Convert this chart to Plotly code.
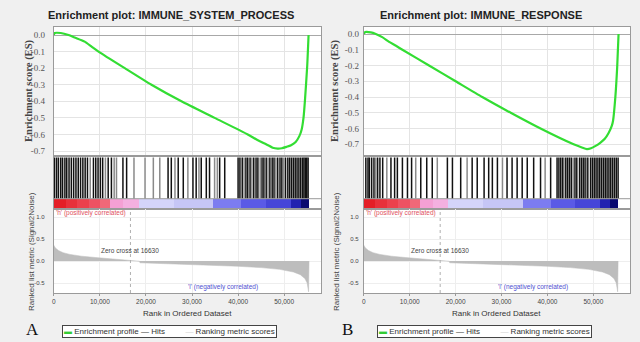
import plotly.graph_objects as go

W, H = 640, 342
def fx(px): return px / W
def fy(px): return 1 - px / H

# ---------------- data ----------------
title_a = "Enrichment plot: IMMUNE_SYSTEM_PROCESS"
title_b = "Enrichment plot: IMMUNE_RESPONSE"

es_rank_a = [0, 200, 1500, 3200, 4500, 6700, 8200, 9700, 15400, 21200, 27700, 34900, 42100, 44000, 46500, 47500, 48600,
             49500, 50500, 51500, 52500, 53300, 53800, 54200, 54500, 55000, 55300]
es_a = [0.0, 0.012, 0.012, 0.0, -0.015, -0.04, -0.07, -0.10, -0.20, -0.30, -0.40, -0.50, -0.60, -0.63, -0.665, -0.68, -0.685,
        -0.683, -0.675, -0.665, -0.645, -0.61, -0.57, -0.50, -0.40, -0.19, 0.0]

es_rank_b = [0, 300, 1500, 2600, 4000, 5500, 7000, 8400, 14200, 20000, 25800, 32000, 38500, 45700, 47500, 48600, 49500,
             50500, 51500, 52500, 53300, 54000, 54300, 54800, 55200, 55500]
es_b = [0.0, 0.012, 0.01, 0.0, -0.02, -0.05, -0.075, -0.10, -0.20, -0.30, -0.40, -0.50, -0.60, -0.70, -0.72, -0.73, -0.725,
        -0.71, -0.69, -0.665, -0.63, -0.585, -0.55, -0.40, -0.21, 0.0]

hits_dark_a = [150, 600, 1000, 1500, 1900, 2400, 2800, 3300, 3800, 4300, 4800, 5300, 5800, 6300, 6800, 7300, 8600, 9100, 9600,
               10100, 10600, 11800, 12500, 15000, 15800, 24800, 25500, 27000, 28100, 30200, 30900, 32000, 33100, 33800,
               36000, 37100, 40000, 40400, 40900, 41700, 42100, 42600, 43400, 43900, 44300, 45200, 45600, 46100, 46900,
               47400, 47800, 48600, 49100, 49500, 50300, 50800, 51200, 51600, 52000, 52400, 52800, 53200, 53600, 54000,
               54300, 54600, 54900, 55200]
hits_light_a = [7900, 11200, 13100, 13600, 17400, 19800, 21600, 23000, 26300, 29100, 31500, 34900, 35500, 41300, 43000,
                44800, 46500, 48200, 49900]

hits_dark_b = [430, 900, 1200, 1700, 2200, 3000, 3500, 4100, 5900, 6700, 7300, 8400, 9500, 10400, 12400, 13700, 14900,
               18200, 19300, 21100, 23600, 24700, 26200, 27200, 28000, 29100, 31200, 32300, 33400, 34500, 35600, 37000,
               38500, 40700, 42100, 42500, 42900, 43300, 44000, 44400, 44800, 45200, 46000, 46400, 47000, 47400, 47800,
               48200, 48800, 49400, 49800, 50200, 50600, 51000, 51400, 51800, 52200, 52600, 53000, 53400, 53800, 54200,
               54600, 55000, 55400]
hits_light_b = [2600, 5000, 11300, 16000, 22500, 30200, 39500, 43600, 45600, 48500]

metric_rank = [0, 300, 1000, 2000, 3500, 6000, 9000, 12000, 15000, 16630, 18600, 18700, 25000, 30000, 35000, 40000, 45000,
               49000, 52000, 53500, 54500, 55000, 55300, 55400]
metric_val = [0.36, 0.30, 0.24, 0.19, 0.15, 0.11, 0.08, 0.05, 0.02, 0.0, -0.005, -0.04, -0.06, -0.08, -0.10, -0.12, -0.15,
              -0.19, -0.25, -0.31, -0.40, -0.50, -0.70, 0.0]
zero_cross = 16630

band_edges = [0, 2500, 5000, 7500, 10000, 12100, 15000, 18400, 26000, 34600, 40700, 46000, 51500, 53700, 55400]
band_colors = ["#e41e26", "#e8303a", "#ec404c", "#ee5262", "#f06878", "#f4a0d4", "#f4b0e0", "#d4d4fa", "#c6c6f6",
               "#7c7cf0", "#5a5ae6", "#4646d8", "#2222b0", "#0a0a70"]

x_ticks = [0, 10000, 20000, 30000, 40000, 50000]
es_ticks = [0.0, -0.1, -0.2, -0.3, -0.4, -0.5, -0.6, -0.7]
metric_ticks = [1.0, 0.5, 0.0, -0.5]

# ---------------- figure ----------------
fig = go.Figure()
SANS = "Liberation Sans, Arial, sans-serif"
SERIF = "Liberation Serif, Times New Roman, serif"
GRID = "#e4e4e4"
LINE = "#9a9a9a"
XMAX = 58000

panels = [
    dict(es_rank=es_rank_a, es=es_a, hd=hits_dark_a, hl=hits_light_a, title=title_a, label="A",
         x0=52, x1=320, es_range=[-0.730, 0.0483], ax=1, es_title_x=27, m_title_x=29, letter_x=31, legend_c=168,
         title_c=170, stand=6),
    dict(es_rank=es_rank_b, es=es_b, hd=hits_dark_b, hl=hits_light_b, title=title_b, label="B",
         x0=363, x1=630, es_range=[-0.774, 0.0444], ax=4, es_title_x=334, m_title_x=335, letter_x=347, legend_c=484,
         title_c=480, stand=2),
]

band_centers = [(band_edges[i] + band_edges[i + 1]) / 2 for i in range(len(band_colors))]
band_widths = [band_edges[i + 1] - band_edges[i] for i in range(len(band_colors))]

def hit_xy(hits):
    xs, ys = [], []
    for h in hits:
        xs += [h, h, None]
        ys += [0.2, 1.0, None]
    return xs, ys

def ax(n): return "x" if n == 1 else f"x{n}"
def ay(n): return "y" if n == 1 else f"y{n}"

annotations = []
shapes = []
for p in panels:
    a = p["ax"]
    ne, nh, nm = a, a + 1, a + 2
    fig.add_trace(go.Scatter(x=p["es_rank"], y=p["es"], mode="lines", line=dict(color="#33dd33", width=2.2, shape="spline", smoothing=0.6),
                             xaxis=ax(ne), yaxis=ay(ne), showlegend=False, hoverinfo="skip"))
    fig.add_trace(go.Bar(x=band_centers, y=[0.2] * len(band_colors), base=0, width=band_widths,
                         marker=dict(color=band_colors, line=dict(width=0)),
                         xaxis=ax(nh), yaxis=ay(nh), showlegend=False, hoverinfo="skip"))
    xs, ys = hit_xy(p["hl"])
    fig.add_trace(go.Scatter(x=xs, y=ys, mode="lines", line=dict(color="#8a8a8a", width=1.5),
                             xaxis=ax(nh), yaxis=ay(nh), showlegend=False, hoverinfo="skip"))
    xs, ys = hit_xy(p["hd"])
    fig.add_trace(go.Scatter(x=xs, y=ys, mode="lines", line=dict(color="#111111", width=1.5),
                             xaxis=ax(nh), yaxis=ay(nh), showlegend=False, hoverinfo="skip"))
    fig.add_trace(go.Scatter(x=metric_rank, y=metric_val, mode="lines", fill="tozeroy", fillcolor="#bdbdbd",
                             line=dict(color="#bdbdbd", width=0.5),
                             xaxis=ax(nm), yaxis=ay(nm), showlegend=False, hoverinfo="skip"))

    dom = [fx(p["x0"]), fx(p["x1"])]
    common_x = dict(domain=dom, range=[0, XMAX], showline=True, mirror=True, linecolor=LINE, linewidth=1, zeroline=False)
    fig.update_layout(**{
        ("xaxis" if ne == 1 else f"xaxis{ne}"): dict(common_x, anchor=ay(ne), showticklabels=False, tickvals=x_ticks,
                                                      showgrid=True, gridcolor=GRID, ticks=""),
        ("yaxis" if ne == 1 else f"yaxis{ne}"): dict(domain=[fy(156), fy(27)], range=p["es_range"], anchor=ax(ne),
                                                      tickvals=es_ticks, ticktext=[f"{v:.1f}" for v in es_ticks],
                                                      tickfont=dict(family=SERIF, size=9, color="#555"),
                                                      showgrid=True, gridcolor=GRID, zeroline=True, zerolinecolor="#a8a8a8",
                                                      zerolinewidth=1, showline=True, mirror=True, linecolor=LINE,
                                                      ticks="", ticklabelstandoff=p["stand"]),
        f"xaxis{nh}": dict(common_x, anchor=ay(nh), showticklabels=False, showgrid=False, ticks=""),
        f"yaxis{nh}": dict(domain=[fy(209), fy(156)], range=[0, 1.03], anchor=ax(nh), showticklabels=False,
                           showgrid=False, showline=True, mirror=True, linecolor=LINE, zeroline=False, ticks=""),
        f"xaxis{nm}": dict(common_x, anchor=ay(nm), tickvals=x_ticks, tickformat=",d",
                           tickfont=dict(family=SANS, size=6.5, color="#444"), showgrid=True, gridcolor="#eeeeee",
                           ticks="outside", ticklen=2, tickcolor=LINE),
        f"yaxis{nm}": dict(domain=[fy(293), fy(209)], range=[-0.727, 1.182], anchor=ax(nm), tickvals=metric_ticks,
                           ticktext=[f"{v:.1f}" for v in metric_ticks], tickfont=dict(family=SANS, size=6, color="#444"),
                           showgrid=True, gridcolor="#eeeeee", zeroline=False, showline=True, mirror=True,
                           linecolor=LINE, ticks="", ticklabelstandoff=p["stand"] + 1),
    })
    shapes.append(dict(type="line", xref=f"{ax(nh)} domain", yref=ay(nh), x0=0, x1=1, y0=0.2, y1=0.2,
                       line=dict(color=LINE, width=1)))
    shapes.append(dict(type="line", xref=ax(nm), yref=f"{ay(nm)} domain", x0=zero_cross, x1=zero_cross, y0=0, y1=1,
                       line=dict(color="#b0b0b0", width=1, dash="dot")))
    cx = (p["x0"] + p["x1"]) / 2
    C = dict(xanchor="center", yanchor="middle", showarrow=False)
    annotations += [
        dict(C, text=f"<b>{p['title']}</b>", xref="paper", yref="paper", x=fx(p["title_c"]), y=fy(15),
             font=dict(family=SANS, size=11, color="#222")),
        dict(C, text="<b>Enrichment score (ES)</b>", xref="paper", yref="paper", x=fx(p["es_title_x"]), y=fy(91),
             textangle=-90, font=dict(family=SERIF, size=10.5, color="#444")),
        dict(C, text="Ranked list metric (Signal2Noise)", xref="paper", yref="paper", x=fx(p["m_title_x"]), y=fy(251),
             textangle=-90, font=dict(family=SANS, size=8, color="#444")),
        dict(C, text="Rank in Ordered Dataset", xref="paper", yref="paper", x=fx(cx), y=fy(313),
             font=dict(family=SANS, size=8, color="#333")),
        dict(C, text="Zero cross at 16630", xref=ax(nm), yref=ay(nm), x=zero_cross, y=0.23,
             font=dict(family=SANS, size=6.5, color="#444")),
        dict(C, text="'h' (positively correlated)", xref=ax(nm), yref=ay(nm), x=0, y=1.10, xanchor="left",
             font=dict(family=SANS, size=6.5, color="#e05060")),
        dict(C, text="'l' (negatively correlated)", xref=ax(nm), yref=ay(nm), x=36800, y=-0.59,
             font=dict(family=SANS, size=6.5, color="#5050d0")),
        dict(C, text=p["label"], xref="paper", yref="paper", x=fx(p["letter_x"]), y=fy(329),
             font=dict(family=SERIF, size=17, color="#111")),
        dict(C, text="<span style='color:#33cc33'>▬</span> Enrichment profile <span style='color:#333'>—</span> Hits "
                     "<span style='color:#ffffff'>▬▬</span> <span style='color:#d0d0d0'>—</span> Ranking metric scores",
             xref="paper", yref="paper", x=fx(p["legend_c"]), y=fy(331),
             font=dict(family=SANS, size=8, color="#333"), bordercolor="#444", borderwidth=1, borderpad=1,
             bgcolor="#ffffff"),
    ]

fig.update_layout(width=W, height=H, margin=dict(l=0, r=0, t=0, b=0), paper_bgcolor="#f0f0f0",
                  plot_bgcolor="#ffffff", showlegend=False, bargap=0, annotations=annotations, shapes=shapes)
fig.write_html("out.html")
